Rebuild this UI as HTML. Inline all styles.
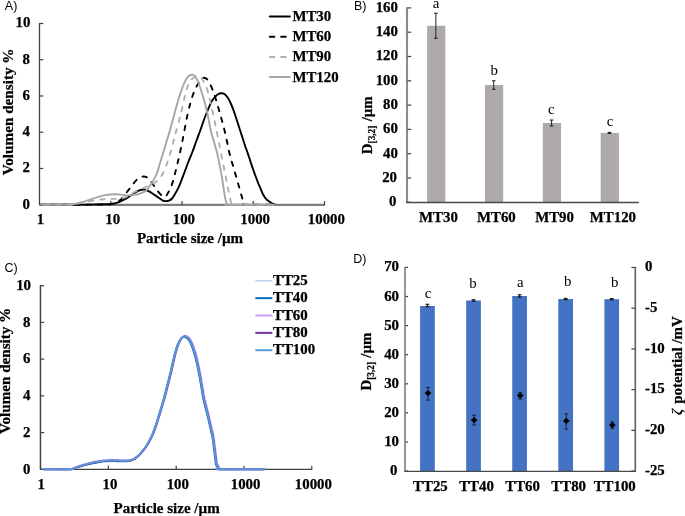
<!DOCTYPE html>
<html><head><meta charset="utf-8"><style>html,body{margin:0;padding:0;background:#fff;}svg{display:block;filter:blur(0.3px);}</style></head>
<body>
<svg width="685" height="516" viewBox="0 0 685 516">
<rect width="685" height="516" fill="#fff"/>
<text x="4.80" y="10.40" font-family="'Liberation Sans', sans-serif" font-weight="normal" font-size="12.50" text-anchor="start" fill="#000" >A)</text>
<line x1="39.50" y1="22.90" x2="39.50" y2="205.30" stroke="#404040" stroke-width="1.30" />
<line x1="39.50" y1="204.90" x2="324.60" y2="204.90" stroke="#808080" stroke-width="2.10" />
<line x1="39.50" y1="204.70" x2="43.30" y2="204.70" stroke="#404040" stroke-width="1.20" />
<text x="29.80" y="208.50" font-family="'Liberation Serif', serif" font-weight="bold" font-size="14.85" text-anchor="end" fill="#000"  stroke="#000" stroke-width="0.25">0</text>
<line x1="39.50" y1="168.46" x2="43.30" y2="168.46" stroke="#404040" stroke-width="1.20" />
<text x="29.80" y="172.26" font-family="'Liberation Serif', serif" font-weight="bold" font-size="14.85" text-anchor="end" fill="#000"  stroke="#000" stroke-width="0.25">2</text>
<line x1="39.50" y1="132.22" x2="43.30" y2="132.22" stroke="#404040" stroke-width="1.20" />
<text x="29.80" y="136.02" font-family="'Liberation Serif', serif" font-weight="bold" font-size="14.85" text-anchor="end" fill="#000"  stroke="#000" stroke-width="0.25">4</text>
<line x1="39.50" y1="95.98" x2="43.30" y2="95.98" stroke="#404040" stroke-width="1.20" />
<text x="29.80" y="99.78" font-family="'Liberation Serif', serif" font-weight="bold" font-size="14.85" text-anchor="end" fill="#000"  stroke="#000" stroke-width="0.25">6</text>
<line x1="39.50" y1="59.74" x2="43.30" y2="59.74" stroke="#404040" stroke-width="1.20" />
<text x="29.80" y="63.54" font-family="'Liberation Serif', serif" font-weight="bold" font-size="14.85" text-anchor="end" fill="#000"  stroke="#000" stroke-width="0.25">8</text>
<line x1="39.50" y1="23.50" x2="43.30" y2="23.50" stroke="#404040" stroke-width="1.20" />
<text x="30.30" y="27.30" font-family="'Liberation Serif', serif" font-weight="bold" font-size="14.85" text-anchor="end" fill="#000"  stroke="#000" stroke-width="0.25">10</text>
<line x1="110.75" y1="205.20" x2="110.75" y2="201.10" stroke="#3a3a3a" stroke-width="1.20" />
<line x1="182.00" y1="205.20" x2="182.00" y2="201.10" stroke="#3a3a3a" stroke-width="1.20" />
<line x1="253.25" y1="205.20" x2="253.25" y2="201.10" stroke="#3a3a3a" stroke-width="1.20" />
<line x1="324.50" y1="205.20" x2="324.50" y2="201.10" stroke="#3a3a3a" stroke-width="1.20" />
<text x="40.40" y="224.00" font-family="'Liberation Serif', serif" font-weight="bold" font-size="14.85" text-anchor="middle" fill="#000"  stroke="#000" stroke-width="0.25">1</text>
<text x="112.65" y="224.00" font-family="'Liberation Serif', serif" font-weight="bold" font-size="14.85" text-anchor="middle" fill="#000"  stroke="#000" stroke-width="0.25">10</text>
<text x="183.90" y="224.00" font-family="'Liberation Serif', serif" font-weight="bold" font-size="14.85" text-anchor="middle" fill="#000"  stroke="#000" stroke-width="0.25">100</text>
<text x="255.15" y="224.00" font-family="'Liberation Serif', serif" font-weight="bold" font-size="14.85" text-anchor="middle" fill="#000"  stroke="#000" stroke-width="0.25">1000</text>
<text x="326.40" y="224.00" font-family="'Liberation Serif', serif" font-weight="bold" font-size="14.85" text-anchor="middle" fill="#000"  stroke="#000" stroke-width="0.25">10000</text>
<text x="190.00" y="243.30" font-family="'Liberation Serif', serif" font-weight="bold" font-size="15.00" text-anchor="middle" fill="#000"  stroke="#000" stroke-width="0.25">Particle size /µm</text>
<text transform="translate(13.4,111.9) rotate(-90)" font-family="'Liberation Serif', serif" font-weight="bold" stroke="#000" stroke-width="0.25" font-size="15.20" text-anchor="middle">Volumen density %</text>
<path d="M41.00,204.70 C46.17,204.70 61.33,204.77 72.00,204.70 C82.67,204.63 98.47,204.40 105.00,204.30 C111.53,204.20 109.27,204.33 111.20,204.10 C113.13,203.87 114.80,203.48 116.60,202.90 C118.40,202.32 120.05,201.57 122.00,200.60 C123.95,199.63 126.22,198.37 128.30,197.10 C130.38,195.83 132.80,194.07 134.50,193.00 C136.20,191.93 137.13,191.28 138.50,190.70 C139.87,190.12 141.53,189.65 142.70,189.50 C143.87,189.35 144.62,189.57 145.50,189.80 C146.38,190.03 146.90,190.32 148.00,190.90 C149.10,191.48 150.37,192.20 152.10,193.30 C153.83,194.40 156.67,196.33 158.40,197.50 C160.13,198.67 161.32,199.70 162.50,200.30 C163.68,200.90 164.42,201.05 165.50,201.10 C166.58,201.15 167.92,201.03 169.00,200.60 C170.08,200.17 171.00,199.60 172.00,198.50 C173.00,197.40 173.98,195.68 175.00,194.00 C176.02,192.32 177.10,190.48 178.10,188.40 C179.10,186.32 179.92,184.23 181.00,181.50 C182.08,178.77 183.35,175.33 184.60,172.00 C185.85,168.67 187.20,164.83 188.50,161.50 C189.80,158.17 191.15,155.25 192.40,152.00 C193.65,148.75 194.72,145.50 196.00,142.00 C197.28,138.50 198.78,134.67 200.10,131.00 C201.42,127.33 202.58,123.58 203.90,120.00 C205.22,116.42 206.73,112.53 208.00,109.50 C209.27,106.47 210.37,103.83 211.50,101.80 C212.63,99.77 213.72,98.55 214.80,97.30 C215.88,96.05 216.92,94.98 218.00,94.30 C219.08,93.62 220.22,93.23 221.30,93.20 C222.38,93.17 223.33,93.22 224.50,94.10 C225.67,94.98 227.22,96.85 228.30,98.50 C229.38,100.15 230.08,101.92 231.00,104.00 C231.92,106.08 232.92,108.58 233.80,111.00 C234.68,113.42 235.40,115.75 236.30,118.50 C237.20,121.25 238.18,124.35 239.20,127.50 C240.22,130.65 241.43,134.40 242.40,137.40 C243.37,140.40 244.12,142.88 245.00,145.50 C245.88,148.12 246.82,150.52 247.70,153.10 C248.58,155.68 249.43,158.38 250.30,161.00 C251.17,163.62 252.03,166.30 252.90,168.80 C253.77,171.30 254.63,173.67 255.50,176.00 C256.37,178.33 257.22,180.60 258.10,182.80 C258.98,185.00 259.92,187.17 260.80,189.20 C261.68,191.23 262.53,193.40 263.40,195.00 C264.27,196.60 265.13,197.78 266.00,198.80 C266.87,199.82 267.68,200.37 268.60,201.10 C269.52,201.83 270.48,202.63 271.50,203.20 C272.52,203.77 274.17,204.28 274.70,204.50" fill="none" stroke="#000" stroke-width="1.9" stroke-linejoin="round" stroke-linecap="round"/>
<path d="M41.00,204.70 C46.67,204.70 64.33,204.73 75.00,204.70 C85.67,204.67 98.83,204.65 105.00,204.50 C111.17,204.35 110.08,204.18 112.00,203.80 C113.92,203.42 114.95,202.98 116.50,202.20 C118.05,201.42 119.88,200.38 121.30,199.10 C122.72,197.82 123.72,196.12 125.00,194.50 C126.28,192.88 127.67,191.15 129.00,189.40 C130.33,187.65 131.63,185.68 133.00,184.00 C134.37,182.32 135.87,180.47 137.20,179.30 C138.53,178.13 139.70,177.45 141.00,177.00 C142.30,176.55 143.75,176.33 145.00,176.60 C146.25,176.87 147.43,177.67 148.50,178.60 C149.57,179.53 150.40,180.87 151.40,182.20 C152.40,183.53 153.53,185.23 154.50,186.60 C155.47,187.97 156.20,189.12 157.20,190.40 C158.20,191.68 159.53,193.30 160.50,194.30 C161.47,195.30 162.28,195.98 163.00,196.40 C163.72,196.82 164.25,196.90 164.80,196.80 C165.35,196.70 165.80,196.40 166.30,195.80 C166.80,195.20 167.27,194.13 167.80,193.20 C168.33,192.27 168.93,191.32 169.50,190.20 C170.07,189.08 170.53,188.28 171.20,186.50 C171.87,184.72 172.78,182.00 173.50,179.50 C174.22,177.00 174.87,174.08 175.50,171.50 C176.13,168.92 176.67,166.58 177.30,164.00 C177.93,161.42 178.60,159.08 179.30,156.00 C180.00,152.92 180.78,149.00 181.50,145.50 C182.22,142.00 182.80,139.17 183.60,135.00 C184.40,130.83 185.48,124.58 186.30,120.50 C187.12,116.42 187.82,113.42 188.50,110.50 C189.18,107.58 189.70,105.50 190.40,103.00 C191.10,100.50 191.92,97.75 192.70,95.50 C193.48,93.25 194.25,91.37 195.10,89.50 C195.95,87.63 196.90,85.85 197.80,84.30 C198.70,82.75 199.57,81.27 200.50,80.20 C201.43,79.13 202.43,78.17 203.40,77.90 C204.37,77.63 205.42,78.00 206.30,78.60 C207.18,79.20 207.97,80.38 208.70,81.50 C209.43,82.62 209.85,83.38 210.70,85.30 C211.55,87.22 212.78,90.13 213.80,93.00 C214.82,95.87 215.93,99.67 216.80,102.50 C217.67,105.33 218.32,107.65 219.00,110.00 C219.68,112.35 220.23,114.18 220.90,116.60 C221.57,119.02 222.30,121.80 223.00,124.50 C223.70,127.20 224.42,129.88 225.10,132.80 C225.78,135.72 226.45,138.90 227.10,142.00 C227.75,145.10 228.32,148.48 229.00,151.40 C229.68,154.32 230.47,156.88 231.20,159.50 C231.93,162.12 232.65,164.52 233.40,167.10 C234.15,169.68 234.95,172.38 235.70,175.00 C236.45,177.62 237.17,180.22 237.90,182.80 C238.63,185.38 239.38,187.97 240.10,190.50 C240.82,193.03 241.58,195.87 242.20,198.00 C242.82,200.13 243.33,202.20 243.80,203.30 C244.27,204.40 239.85,204.37 245.00,204.60 C250.15,204.83 269.75,204.68 274.70,204.70" fill="none" stroke="#000" stroke-width="1.9" stroke-dasharray="4.4 6.9" stroke-linecap="round" stroke-linejoin="round"/>
<path d="M41.00,204.70 C45.83,204.70 64.35,204.78 70.00,204.70 C75.65,204.62 72.90,204.52 74.90,204.20 C76.90,203.88 79.48,203.30 82.00,202.80 C84.52,202.30 87.10,201.73 90.00,201.20 C92.90,200.67 96.73,199.95 99.40,199.60 C102.07,199.25 104.03,199.22 106.00,199.10 C107.97,198.98 109.43,198.95 111.20,198.90 C112.97,198.85 114.53,198.98 116.60,198.80 C118.67,198.62 121.53,198.35 123.60,197.80 C125.67,197.25 127.18,196.47 129.00,195.50 C130.82,194.53 132.30,193.15 134.50,192.00 C136.70,190.85 140.12,189.52 142.20,188.60 C144.28,187.68 145.47,187.18 147.00,186.50 C148.53,185.82 150.07,185.17 151.40,184.50 C152.73,183.83 154.03,183.08 155.00,182.50 C155.97,181.92 156.37,181.75 157.20,181.00 C158.03,180.25 159.03,179.28 160.00,178.00 C160.97,176.72 162.08,175.05 163.00,173.30 C163.92,171.55 164.72,169.47 165.50,167.50 C166.28,165.53 166.75,164.42 167.70,161.50 C168.65,158.58 170.15,153.67 171.20,150.00 C172.25,146.33 173.18,142.58 174.00,139.50 C174.82,136.42 175.18,134.92 176.10,131.50 C177.02,128.08 178.58,122.42 179.50,119.00 C180.42,115.58 180.92,113.92 181.60,111.00 C182.28,108.08 182.93,104.42 183.60,101.50 C184.27,98.58 184.93,96.00 185.60,93.50 C186.27,91.00 186.87,88.50 187.60,86.50 C188.33,84.50 189.10,82.92 190.00,81.50 C190.90,80.08 191.93,78.88 193.00,78.00 C194.07,77.12 195.37,76.45 196.40,76.20 C197.43,75.95 198.35,76.15 199.20,76.50 C200.05,76.85 200.78,77.52 201.50,78.30 C202.22,79.08 202.75,80.03 203.50,81.20 C204.25,82.37 205.18,83.17 206.00,85.30 C206.82,87.43 207.62,91.05 208.40,94.00 C209.18,96.95 209.97,99.92 210.70,103.00 C211.43,106.08 212.12,109.33 212.80,112.50 C213.48,115.67 214.20,119.08 214.80,122.00 C215.40,124.92 215.75,126.75 216.40,130.00 C217.05,133.25 217.93,137.63 218.70,141.50 C219.47,145.37 220.22,149.28 221.00,153.20 C221.78,157.12 222.62,161.12 223.40,165.00 C224.18,168.88 225.00,172.92 225.70,176.50 C226.40,180.08 226.95,183.22 227.60,186.50 C228.25,189.78 229.02,193.53 229.60,196.20 C230.18,198.87 230.65,201.12 231.10,202.50 C231.55,203.88 225.03,204.13 232.30,204.50 C239.57,204.87 267.63,204.67 274.70,204.70" fill="none" stroke="#b0b0b0" stroke-width="1.9" stroke-dasharray="4.4 6.9" stroke-dashoffset="-3.2" stroke-linecap="round" stroke-linejoin="round"/>
<path d="M41.00,204.70 C45.50,204.70 62.62,204.77 68.00,204.70 C73.38,204.63 71.20,204.67 73.30,204.30 C75.40,203.93 78.17,203.17 80.60,202.50 C83.03,201.83 85.47,201.08 87.90,200.30 C90.33,199.52 92.77,198.58 95.20,197.80 C97.63,197.02 100.07,196.15 102.50,195.60 C104.93,195.05 107.52,194.72 109.80,194.50 C112.08,194.28 114.42,194.28 116.20,194.30 C117.98,194.32 119.13,194.47 120.50,194.60 C121.87,194.73 123.15,194.97 124.40,195.10 C125.65,195.23 126.67,195.40 128.00,195.40 C129.33,195.40 130.93,195.25 132.40,195.10 C133.87,194.95 135.35,194.82 136.80,194.50 C138.25,194.18 139.65,193.78 141.10,193.20 C142.55,192.62 144.35,191.77 145.50,191.00 C146.65,190.23 147.12,189.67 148.00,188.60 C148.88,187.53 149.75,186.22 150.80,184.60 C151.85,182.98 153.23,180.92 154.30,178.90 C155.37,176.88 156.33,174.80 157.20,172.50 C158.07,170.20 158.70,167.77 159.50,165.10 C160.30,162.43 161.22,159.10 162.00,156.50 C162.78,153.90 163.37,152.25 164.20,149.50 C165.03,146.75 166.03,143.23 167.00,140.00 C167.97,136.77 168.92,133.85 170.00,130.10 C171.08,126.35 172.33,121.77 173.50,117.50 C174.67,113.23 175.87,108.50 177.00,104.50 C178.13,100.50 179.20,96.83 180.30,93.50 C181.40,90.17 182.57,86.95 183.60,84.50 C184.63,82.05 185.60,80.23 186.50,78.80 C187.40,77.37 188.02,76.57 189.00,75.90 C189.98,75.23 191.40,74.75 192.40,74.80 C193.40,74.85 194.22,75.38 195.00,76.20 C195.78,77.02 196.35,78.15 197.10,79.70 C197.85,81.25 198.72,83.37 199.50,85.50 C200.28,87.63 201.07,90.17 201.80,92.50 C202.53,94.83 203.20,97.00 203.90,99.50 C204.60,102.00 205.32,104.67 206.00,107.50 C206.68,110.33 207.33,113.33 208.00,116.50 C208.67,119.67 209.42,123.67 210.00,126.50 C210.58,129.33 210.75,130.67 211.50,133.50 C212.25,136.33 213.55,140.22 214.50,143.50 C215.45,146.78 216.35,149.62 217.20,153.20 C218.05,156.78 218.83,161.12 219.60,165.00 C220.37,168.88 221.15,172.75 221.80,176.50 C222.45,180.25 222.98,184.15 223.50,187.50 C224.02,190.85 224.45,194.15 224.90,196.60 C225.35,199.05 225.77,200.90 226.20,202.20 C226.63,203.50 227.03,203.98 227.50,204.40 C227.97,204.82 221.13,204.65 229.00,204.70 C236.87,204.75 267.08,204.70 274.70,204.70" fill="none" stroke="#a6a6a6" stroke-width="1.9" stroke-linejoin="round" stroke-linecap="round"/>
<line x1="269.8" y1="16.50" x2="289.8" y2="16.50" stroke="#000" stroke-width="2" stroke-linecap="round"/>
<text x="292.40" y="20.90" font-family="'Liberation Serif', serif" font-weight="bold" font-size="14.85" text-anchor="start" fill="#000"  stroke="#000" stroke-width="0.25">MT30</text>
<line x1="269.8" y1="36.70" x2="289.8" y2="36.70" stroke="#000" stroke-width="2" stroke-dasharray="4.5 6.9" stroke-linecap="round"/>
<text x="292.40" y="41.10" font-family="'Liberation Serif', serif" font-weight="bold" font-size="14.85" text-anchor="start" fill="#000"  stroke="#000" stroke-width="0.25">MT60</text>
<line x1="269.8" y1="56.90" x2="289.8" y2="56.90" stroke="#b0b0b0" stroke-width="2" stroke-dasharray="4.5 6.9" stroke-linecap="round"/>
<text x="292.40" y="61.30" font-family="'Liberation Serif', serif" font-weight="bold" font-size="14.85" text-anchor="start" fill="#000"  stroke="#000" stroke-width="0.25">MT90</text>
<line x1="269.8" y1="77.10" x2="289.8" y2="77.10" stroke="#a6a6a6" stroke-width="2" stroke-linecap="round"/>
<text x="292.40" y="81.50" font-family="'Liberation Serif', serif" font-weight="bold" font-size="14.85" text-anchor="start" fill="#000"  stroke="#000" stroke-width="0.25">MT120</text>
<text x="353.90" y="10.20" font-family="'Liberation Sans', sans-serif" font-weight="normal" font-size="12.50" text-anchor="start" fill="#000" >B)</text>
<line x1="407.00" y1="7.30" x2="407.00" y2="202.30" stroke="#8a8a8a" stroke-width="2.10" />
<line x1="407.50" y1="202.30" x2="411.20" y2="202.30" stroke="#404040" stroke-width="1.20" />
<text x="396.40" y="206.10" font-family="'Liberation Serif', serif" font-weight="bold" font-size="14.85" text-anchor="end" fill="#000"  stroke="#000" stroke-width="0.25">0</text>
<line x1="407.50" y1="178.00" x2="411.20" y2="178.00" stroke="#404040" stroke-width="1.20" />
<text x="397.00" y="181.80" font-family="'Liberation Serif', serif" font-weight="bold" font-size="14.85" text-anchor="end" fill="#000"  stroke="#000" stroke-width="0.25">20</text>
<line x1="407.50" y1="153.70" x2="411.20" y2="153.70" stroke="#404040" stroke-width="1.20" />
<text x="397.90" y="157.50" font-family="'Liberation Serif', serif" font-weight="bold" font-size="14.85" text-anchor="end" fill="#000"  stroke="#000" stroke-width="0.25">40</text>
<line x1="407.50" y1="129.40" x2="411.20" y2="129.40" stroke="#404040" stroke-width="1.20" />
<text x="397.90" y="133.20" font-family="'Liberation Serif', serif" font-weight="bold" font-size="14.85" text-anchor="end" fill="#000"  stroke="#000" stroke-width="0.25">60</text>
<line x1="407.50" y1="105.10" x2="411.20" y2="105.10" stroke="#404040" stroke-width="1.20" />
<text x="397.90" y="108.90" font-family="'Liberation Serif', serif" font-weight="bold" font-size="14.85" text-anchor="end" fill="#000"  stroke="#000" stroke-width="0.25">80</text>
<line x1="407.50" y1="80.80" x2="411.20" y2="80.80" stroke="#404040" stroke-width="1.20" />
<text x="397.90" y="84.60" font-family="'Liberation Serif', serif" font-weight="bold" font-size="14.85" text-anchor="end" fill="#000"  stroke="#000" stroke-width="0.25">100</text>
<line x1="407.50" y1="56.50" x2="411.20" y2="56.50" stroke="#404040" stroke-width="1.20" />
<text x="397.90" y="60.30" font-family="'Liberation Serif', serif" font-weight="bold" font-size="14.85" text-anchor="end" fill="#000"  stroke="#000" stroke-width="0.25">120</text>
<line x1="407.50" y1="32.20" x2="411.20" y2="32.20" stroke="#404040" stroke-width="1.20" />
<text x="397.90" y="36.00" font-family="'Liberation Serif', serif" font-weight="bold" font-size="14.85" text-anchor="end" fill="#000"  stroke="#000" stroke-width="0.25">140</text>
<line x1="407.50" y1="7.90" x2="411.20" y2="7.90" stroke="#404040" stroke-width="1.20" />
<text x="397.90" y="11.70" font-family="'Liberation Serif', serif" font-weight="bold" font-size="14.85" text-anchor="end" fill="#000"  stroke="#000" stroke-width="0.25">160</text>
<rect x="427.10" y="25.76" width="18.2" height="176.54" fill="#aeaaaa"/>
<line x1="435.85" y1="13.25" x2="435.85" y2="38.28" stroke="#222" stroke-width="1.00" />
<line x1="434.05" y1="13.25" x2="437.65" y2="13.25" stroke="#222" stroke-width="1.10" />
<line x1="434.05" y1="38.28" x2="437.65" y2="38.28" stroke="#222" stroke-width="1.10" />
<text x="436.10" y="7.80" font-family="'Liberation Serif', serif" font-weight="normal" font-size="14.85" text-anchor="middle" fill="#000" >a</text>
<rect x="484.97" y="85.05" width="18.2" height="117.25" fill="#aeaaaa"/>
<line x1="493.72" y1="80.80" x2="493.72" y2="89.31" stroke="#222" stroke-width="1.00" />
<line x1="491.92" y1="80.80" x2="495.52" y2="80.80" stroke="#222" stroke-width="1.10" />
<line x1="491.92" y1="89.31" x2="495.52" y2="89.31" stroke="#222" stroke-width="1.10" />
<text x="494.25" y="74.70" font-family="'Liberation Serif', serif" font-weight="normal" font-size="14.85" text-anchor="middle" fill="#000" >b</text>
<rect x="542.84" y="122.96" width="18.2" height="79.34" fill="#aeaaaa"/>
<line x1="551.59" y1="120.04" x2="551.59" y2="125.88" stroke="#222" stroke-width="1.00" />
<line x1="549.79" y1="120.04" x2="553.39" y2="120.04" stroke="#222" stroke-width="1.10" />
<line x1="549.79" y1="125.88" x2="553.39" y2="125.88" stroke="#222" stroke-width="1.10" />
<text x="551.25" y="113.60" font-family="'Liberation Serif', serif" font-weight="normal" font-size="14.85" text-anchor="middle" fill="#000" >c</text>
<rect x="600.71" y="132.92" width="18.2" height="69.38" fill="#aeaaaa"/>
<line x1="609.46" y1="132.44" x2="609.46" y2="133.41" stroke="#222" stroke-width="1.00" />
<line x1="607.66" y1="132.44" x2="611.26" y2="132.44" stroke="#222" stroke-width="1.10" />
<line x1="607.66" y1="133.41" x2="611.26" y2="133.41" stroke="#222" stroke-width="1.10" />
<text x="609.95" y="125.60" font-family="'Liberation Serif', serif" font-weight="normal" font-size="14.85" text-anchor="middle" fill="#000" >c</text>
<line x1="406.00" y1="202.45" x2="638.80" y2="202.45" stroke="#4a4a4a" stroke-width="1.35" />
<text x="438.50" y="221.60" font-family="'Liberation Serif', serif" font-weight="bold" font-size="14.85" text-anchor="middle" fill="#000"  stroke="#000" stroke-width="0.25">MT30</text>
<text x="496.37" y="221.60" font-family="'Liberation Serif', serif" font-weight="bold" font-size="14.85" text-anchor="middle" fill="#000"  stroke="#000" stroke-width="0.25">MT60</text>
<text x="554.54" y="221.60" font-family="'Liberation Serif', serif" font-weight="bold" font-size="14.85" text-anchor="middle" fill="#000"  stroke="#000" stroke-width="0.25">MT90</text>
<text x="612.91" y="221.60" font-family="'Liberation Serif', serif" font-weight="bold" font-size="14.85" text-anchor="middle" fill="#000"  stroke="#000" stroke-width="0.25">MT120</text>
<text transform="translate(371.7,154.2) rotate(-90)" font-family="'Liberation Serif', serif" font-weight="bold" stroke="#000" stroke-width="0.25" font-size="14.85">D<tspan font-size="9.3" font-weight="bold" dy="3">[3,2]</tspan><tspan dy="-3" dx="0.6"> /µm</tspan></text>
<text x="4.60" y="271.60" font-family="'Liberation Sans', sans-serif" font-weight="normal" font-size="12.50" text-anchor="start" fill="#000" >C)</text>
<line x1="40.45" y1="285.10" x2="40.45" y2="469.90" stroke="#434343" stroke-width="1.50" />
<line x1="40.45" y1="469.40" x2="311.70" y2="469.40" stroke="#404040" stroke-width="1.35" />
<line x1="40.45" y1="469.30" x2="44.20" y2="469.30" stroke="#404040" stroke-width="1.20" />
<text x="30.40" y="473.60" font-family="'Liberation Serif', serif" font-weight="bold" font-size="14.85" text-anchor="end" fill="#000"  stroke="#000" stroke-width="0.25">0</text>
<line x1="40.45" y1="432.58" x2="44.20" y2="432.58" stroke="#404040" stroke-width="1.20" />
<text x="30.40" y="436.88" font-family="'Liberation Serif', serif" font-weight="bold" font-size="14.85" text-anchor="end" fill="#000"  stroke="#000" stroke-width="0.25">2</text>
<line x1="40.45" y1="395.86" x2="44.20" y2="395.86" stroke="#404040" stroke-width="1.20" />
<text x="30.40" y="400.16" font-family="'Liberation Serif', serif" font-weight="bold" font-size="14.85" text-anchor="end" fill="#000"  stroke="#000" stroke-width="0.25">4</text>
<line x1="40.45" y1="359.14" x2="44.20" y2="359.14" stroke="#404040" stroke-width="1.20" />
<text x="30.40" y="363.44" font-family="'Liberation Serif', serif" font-weight="bold" font-size="14.85" text-anchor="end" fill="#000"  stroke="#000" stroke-width="0.25">6</text>
<line x1="40.45" y1="322.42" x2="44.20" y2="322.42" stroke="#404040" stroke-width="1.20" />
<text x="30.40" y="326.72" font-family="'Liberation Serif', serif" font-weight="bold" font-size="14.85" text-anchor="end" fill="#000"  stroke="#000" stroke-width="0.25">8</text>
<line x1="40.45" y1="285.70" x2="44.20" y2="285.70" stroke="#404040" stroke-width="1.20" />
<text x="31.00" y="290.00" font-family="'Liberation Serif', serif" font-weight="bold" font-size="14.85" text-anchor="end" fill="#000"  stroke="#000" stroke-width="0.25">10</text>
<line x1="108.40" y1="469.80" x2="108.40" y2="465.70" stroke="#404040" stroke-width="1.20" />
<line x1="176.20" y1="469.80" x2="176.20" y2="465.70" stroke="#404040" stroke-width="1.20" />
<line x1="244.00" y1="469.80" x2="244.00" y2="465.70" stroke="#404040" stroke-width="1.20" />
<line x1="311.80" y1="469.80" x2="311.80" y2="465.70" stroke="#404040" stroke-width="1.20" />
<text x="41.20" y="489.00" font-family="'Liberation Serif', serif" font-weight="bold" font-size="14.85" text-anchor="middle" fill="#000"  stroke="#000" stroke-width="0.25">1</text>
<text x="110.00" y="489.00" font-family="'Liberation Serif', serif" font-weight="bold" font-size="14.85" text-anchor="middle" fill="#000"  stroke="#000" stroke-width="0.25">10</text>
<text x="177.80" y="489.00" font-family="'Liberation Serif', serif" font-weight="bold" font-size="14.85" text-anchor="middle" fill="#000"  stroke="#000" stroke-width="0.25">100</text>
<text x="245.60" y="489.00" font-family="'Liberation Serif', serif" font-weight="bold" font-size="14.85" text-anchor="middle" fill="#000"  stroke="#000" stroke-width="0.25">1000</text>
<text x="313.40" y="489.00" font-family="'Liberation Serif', serif" font-weight="bold" font-size="14.85" text-anchor="middle" fill="#000"  stroke="#000" stroke-width="0.25">10000</text>
<text x="166.60" y="512.90" font-family="'Liberation Serif', serif" font-weight="bold" font-size="15.00" text-anchor="middle" fill="#000"  stroke="#000" stroke-width="0.25">Particle size /µm</text>
<text transform="translate(9.8,370.9) rotate(-90)" font-family="'Liberation Serif', serif" font-weight="bold" stroke="#000" stroke-width="0.25" font-size="15.10" text-anchor="middle">Volumen density %</text>
<path d="M43.60,469.30 C47.87,469.30 64.30,469.40 69.20,469.30 C74.10,469.20 71.48,469.08 73.00,468.69 C74.52,468.30 76.58,467.49 78.30,466.96 C80.02,466.43 81.60,465.98 83.30,465.50 C85.00,465.02 86.83,464.52 88.50,464.10 C90.17,463.68 91.60,463.35 93.30,463.00 C95.00,462.65 96.87,462.30 98.70,462.00 C100.53,461.70 102.35,461.40 104.30,461.20 C106.25,461.00 108.57,460.85 110.40,460.80 C112.23,460.75 113.60,460.85 115.30,460.90 C117.00,460.95 118.93,461.05 120.60,461.10 C122.27,461.15 123.85,461.23 125.30,461.20 C126.75,461.17 128.13,461.08 129.30,460.90 C130.47,460.72 131.32,460.47 132.30,460.10 C133.28,459.73 134.28,459.27 135.20,458.70 C136.12,458.13 136.95,457.45 137.80,456.70 C138.65,455.95 139.33,455.25 140.30,454.20 C141.27,453.15 142.50,451.78 143.60,450.40 C144.70,449.02 145.78,447.65 146.90,445.90 C148.02,444.15 149.23,441.95 150.30,439.90 C151.37,437.85 152.33,435.93 153.30,433.60 C154.27,431.27 155.18,428.60 156.10,425.90 C157.02,423.20 157.88,420.35 158.80,417.40 C159.72,414.45 160.67,411.30 161.60,408.20 C162.53,405.10 163.55,401.85 164.40,398.80 C165.25,395.75 165.93,392.88 166.70,389.90 C167.47,386.92 168.15,384.32 169.00,380.90 C169.85,377.48 170.80,373.62 171.80,369.40 C172.80,365.18 174.08,359.27 175.00,355.60 C175.92,351.93 176.53,349.72 177.30,347.40 C178.07,345.08 178.80,343.25 179.60,341.70 C180.40,340.15 181.23,338.95 182.10,338.10 C182.97,337.25 183.88,336.63 184.80,336.60 C185.72,336.57 186.72,337.22 187.60,337.90 C188.48,338.58 189.38,339.62 190.10,340.70 C190.82,341.78 191.32,343.03 191.90,344.40 C192.48,345.77 192.97,347.03 193.60,348.90 C194.23,350.77 195.03,353.15 195.70,355.60 C196.37,358.05 197.00,360.88 197.60,363.60 C198.20,366.32 198.77,369.18 199.30,371.90 C199.83,374.62 200.27,376.90 200.80,379.90 C201.33,382.90 201.97,386.75 202.50,389.90 C203.03,393.05 203.37,395.78 204.00,398.80 C204.63,401.82 205.53,404.93 206.30,408.00 C207.07,411.07 207.83,413.97 208.60,417.20 C209.37,420.43 210.13,424.02 210.90,427.40 C211.67,430.78 212.60,434.17 213.20,437.50 C213.80,440.83 214.10,444.25 214.50,447.40 C214.90,450.55 215.27,453.70 215.60,456.40 C215.93,459.10 216.17,461.95 216.50,463.60 C216.83,465.25 217.20,465.55 217.60,466.30 C218.00,467.05 218.52,467.59 218.90,468.09 C219.28,468.59 212.35,469.10 219.90,469.30 C227.45,469.50 256.82,469.30 264.20,469.30" fill="none" stroke="#bdd7ee" stroke-width="1.6" stroke-linejoin="round" stroke-linecap="round"/>
<path d="M43.60,469.30 C47.87,469.30 64.30,469.39 69.20,469.30 C74.10,469.21 71.60,469.10 73.00,468.74 C74.40,468.38 76.00,467.65 77.60,467.14 C79.20,466.63 80.90,466.17 82.60,465.70 C84.30,465.23 86.13,464.72 87.80,464.30 C89.47,463.88 90.90,463.55 92.60,463.20 C94.30,462.85 96.17,462.50 98.00,462.20 C99.83,461.90 101.65,461.60 103.60,461.40 C105.55,461.20 107.87,461.05 109.70,461.00 C111.53,460.95 112.90,461.05 114.60,461.10 C116.30,461.15 118.23,461.25 119.90,461.30 C121.57,461.35 123.15,461.43 124.60,461.40 C126.05,461.37 127.43,461.28 128.60,461.10 C129.77,460.92 130.62,460.67 131.60,460.30 C132.58,459.93 133.58,459.47 134.50,458.90 C135.42,458.33 136.25,457.65 137.10,456.90 C137.95,456.15 138.63,455.45 139.60,454.40 C140.57,453.35 141.80,451.98 142.90,450.60 C144.00,449.22 145.08,447.85 146.20,446.10 C147.32,444.35 148.53,442.15 149.60,440.10 C150.67,438.05 151.63,436.13 152.60,433.80 C153.57,431.47 154.48,428.80 155.40,426.10 C156.32,423.40 157.18,420.55 158.10,417.60 C159.02,414.65 159.97,411.50 160.90,408.40 C161.83,405.30 162.85,402.05 163.70,399.00 C164.55,395.95 165.23,393.08 166.00,390.10 C166.77,387.12 167.45,384.52 168.30,381.10 C169.15,377.68 170.10,373.82 171.10,369.60 C172.10,365.38 173.38,359.47 174.30,355.80 C175.22,352.13 175.83,349.92 176.60,347.60 C177.37,345.28 178.10,343.45 178.90,341.90 C179.70,340.35 180.53,339.15 181.40,338.30 C182.27,337.45 183.18,336.83 184.10,336.80 C185.02,336.77 186.02,337.42 186.90,338.10 C187.78,338.78 188.68,339.82 189.40,340.90 C190.12,341.98 190.62,343.23 191.20,344.60 C191.78,345.97 192.27,347.23 192.90,349.10 C193.53,350.97 194.33,353.35 195.00,355.80 C195.67,358.25 196.30,361.08 196.90,363.80 C197.50,366.52 198.07,369.38 198.60,372.10 C199.13,374.82 199.57,377.10 200.10,380.10 C200.63,383.10 201.27,386.95 201.80,390.10 C202.33,393.25 202.67,395.98 203.30,399.00 C203.93,402.02 204.83,405.13 205.60,408.20 C206.37,411.27 207.13,414.17 207.90,417.40 C208.67,420.63 209.43,424.22 210.20,427.60 C210.97,430.98 211.90,434.37 212.50,437.70 C213.10,441.03 213.40,444.45 213.80,447.60 C214.20,450.75 214.57,453.90 214.90,456.60 C215.23,459.30 215.47,462.15 215.80,463.80 C216.13,465.45 216.50,465.77 216.90,466.50 C217.30,467.23 217.70,467.71 218.20,468.18 C218.70,468.65 212.23,469.11 219.90,469.30 C227.57,469.49 256.82,469.30 264.20,469.30" fill="none" stroke="#0070c0" stroke-width="1.9" stroke-linejoin="round" stroke-linecap="round"/>
<path d="M43.60,469.30 C47.87,469.30 64.30,469.44 69.20,469.30 C74.10,469.16 71.40,469.00 73.00,468.46 C74.60,467.92 77.00,466.72 78.80,466.06 C80.60,465.40 82.10,464.99 83.80,464.50 C85.50,464.01 87.33,463.52 89.00,463.10 C90.67,462.68 92.10,462.35 93.80,462.00 C95.50,461.65 97.37,461.30 99.20,461.00 C101.03,460.70 102.85,460.40 104.80,460.20 C106.75,460.00 109.07,459.85 110.90,459.80 C112.73,459.75 114.10,459.85 115.80,459.90 C117.50,459.95 119.43,460.05 121.10,460.10 C122.77,460.15 124.35,460.23 125.80,460.20 C127.25,460.17 128.63,460.08 129.80,459.90 C130.97,459.72 131.82,459.47 132.80,459.10 C133.78,458.73 134.78,458.27 135.70,457.70 C136.62,457.13 137.45,456.45 138.30,455.70 C139.15,454.95 139.83,454.25 140.80,453.20 C141.77,452.15 143.00,450.78 144.10,449.40 C145.20,448.02 146.28,446.65 147.40,444.90 C148.52,443.15 149.73,440.95 150.80,438.90 C151.87,436.85 152.83,434.93 153.80,432.60 C154.77,430.27 155.68,427.60 156.60,424.90 C157.52,422.20 158.38,419.35 159.30,416.40 C160.22,413.45 161.17,410.30 162.10,407.20 C163.03,404.10 164.05,400.85 164.90,397.80 C165.75,394.75 166.43,391.88 167.20,388.90 C167.97,385.92 168.65,383.32 169.50,379.90 C170.35,376.48 171.30,372.62 172.30,368.40 C173.30,364.18 174.58,358.27 175.50,354.60 C176.42,350.93 177.03,348.72 177.80,346.40 C178.57,344.08 179.30,342.25 180.10,340.70 C180.90,339.15 181.73,337.95 182.60,337.10 C183.47,336.25 184.38,335.63 185.30,335.60 C186.22,335.57 187.22,336.22 188.10,336.90 C188.98,337.58 189.88,338.62 190.60,339.70 C191.32,340.78 191.82,342.03 192.40,343.40 C192.98,344.77 193.47,346.03 194.10,347.90 C194.73,349.77 195.53,352.15 196.20,354.60 C196.87,357.05 197.50,359.88 198.10,362.60 C198.70,365.32 199.27,368.18 199.80,370.90 C200.33,373.62 200.77,375.90 201.30,378.90 C201.83,381.90 202.47,385.75 203.00,388.90 C203.53,392.05 203.87,394.78 204.50,397.80 C205.13,400.82 206.03,403.93 206.80,407.00 C207.57,410.07 208.33,412.97 209.10,416.20 C209.87,419.43 210.63,423.02 211.40,426.40 C212.17,429.78 213.10,433.17 213.70,436.50 C214.30,439.83 214.60,443.25 215.00,446.40 C215.40,449.55 215.77,452.70 216.10,455.40 C216.43,458.10 216.67,460.95 217.00,462.60 C217.33,464.25 217.70,464.46 218.10,465.30 C218.50,466.14 219.10,466.95 219.40,467.62 C219.70,468.29 212.43,469.02 219.90,469.30 C227.37,469.58 256.82,469.30 264.20,469.30" fill="none" stroke="#cc99ff" stroke-width="1.9" stroke-linejoin="round" stroke-linecap="round"/>
<path d="M43.60,469.30 C47.87,469.30 64.30,469.41 69.20,469.30 C74.10,469.19 71.50,469.07 73.00,468.65 C74.50,468.23 76.50,467.34 78.20,466.78 C79.90,466.22 81.50,465.78 83.20,465.30 C84.90,464.82 86.73,464.32 88.40,463.90 C90.07,463.48 91.50,463.15 93.20,462.80 C94.90,462.45 96.77,462.10 98.60,461.80 C100.43,461.50 102.25,461.20 104.20,461.00 C106.15,460.80 108.47,460.65 110.30,460.60 C112.13,460.55 113.50,460.65 115.20,460.70 C116.90,460.75 118.83,460.85 120.50,460.90 C122.17,460.95 123.75,461.03 125.20,461.00 C126.65,460.97 128.03,460.88 129.20,460.70 C130.37,460.52 131.22,460.27 132.20,459.90 C133.18,459.53 134.18,459.07 135.10,458.50 C136.02,457.93 136.85,457.25 137.70,456.50 C138.55,455.75 139.23,455.05 140.20,454.00 C141.17,452.95 142.40,451.58 143.50,450.20 C144.60,448.82 145.68,447.45 146.80,445.70 C147.92,443.95 149.13,441.75 150.20,439.70 C151.27,437.65 152.23,435.73 153.20,433.40 C154.17,431.07 155.08,428.40 156.00,425.70 C156.92,423.00 157.78,420.15 158.70,417.20 C159.62,414.25 160.57,411.10 161.50,408.00 C162.43,404.90 163.45,401.65 164.30,398.60 C165.15,395.55 165.83,392.68 166.60,389.70 C167.37,386.72 168.05,384.12 168.90,380.70 C169.75,377.28 170.70,373.42 171.70,369.20 C172.70,364.98 173.98,359.07 174.90,355.40 C175.82,351.73 176.43,349.52 177.20,347.20 C177.97,344.88 178.70,343.05 179.50,341.50 C180.30,339.95 181.13,338.75 182.00,337.90 C182.87,337.05 183.78,336.43 184.70,336.40 C185.62,336.37 186.62,337.02 187.50,337.70 C188.38,338.38 189.28,339.42 190.00,340.50 C190.72,341.58 191.22,342.83 191.80,344.20 C192.38,345.57 192.87,346.83 193.50,348.70 C194.13,350.57 194.93,352.95 195.60,355.40 C196.27,357.85 196.90,360.68 197.50,363.40 C198.10,366.12 198.67,368.98 199.20,371.70 C199.73,374.42 200.17,376.70 200.70,379.70 C201.23,382.70 201.87,386.55 202.40,389.70 C202.93,392.85 203.27,395.58 203.90,398.60 C204.53,401.62 205.43,404.73 206.20,407.80 C206.97,410.87 207.73,413.77 208.50,417.00 C209.27,420.23 210.03,423.82 210.80,427.20 C211.57,430.58 212.50,433.97 213.10,437.30 C213.70,440.63 214.00,444.05 214.40,447.20 C214.80,450.35 215.17,453.50 215.50,456.20 C215.83,458.90 216.07,461.75 216.40,463.40 C216.73,465.05 217.10,465.33 217.50,466.10 C217.90,466.87 218.40,467.46 218.80,467.99 C219.20,468.53 212.33,469.08 219.90,469.30 C227.47,469.52 256.82,469.30 264.20,469.30" fill="none" stroke="#7030a0" stroke-width="1.9" stroke-linejoin="round" stroke-linecap="round"/>
<path d="M43.60,469.30 C47.87,469.30 64.30,469.42 69.20,469.30 C74.10,469.18 71.53,469.05 73.00,468.60 C74.47,468.15 76.33,467.18 78.00,466.60 C79.67,466.02 81.30,465.58 83.00,465.10 C84.70,464.62 86.53,464.12 88.20,463.70 C89.87,463.28 91.30,462.95 93.00,462.60 C94.70,462.25 96.57,461.90 98.40,461.60 C100.23,461.30 102.05,461.00 104.00,460.80 C105.95,460.60 108.27,460.45 110.10,460.40 C111.93,460.35 113.30,460.45 115.00,460.50 C116.70,460.55 118.63,460.65 120.30,460.70 C121.97,460.75 123.55,460.83 125.00,460.80 C126.45,460.77 127.83,460.68 129.00,460.50 C130.17,460.32 131.02,460.07 132.00,459.70 C132.98,459.33 133.98,458.87 134.90,458.30 C135.82,457.73 136.65,457.05 137.50,456.30 C138.35,455.55 139.03,454.85 140.00,453.80 C140.97,452.75 142.20,451.38 143.30,450.00 C144.40,448.62 145.48,447.25 146.60,445.50 C147.72,443.75 148.93,441.55 150.00,439.50 C151.07,437.45 152.03,435.53 153.00,433.20 C153.97,430.87 154.88,428.20 155.80,425.50 C156.72,422.80 157.58,419.95 158.50,417.00 C159.42,414.05 160.37,410.90 161.30,407.80 C162.23,404.70 163.25,401.45 164.10,398.40 C164.95,395.35 165.63,392.48 166.40,389.50 C167.17,386.52 167.85,383.92 168.70,380.50 C169.55,377.08 170.50,373.22 171.50,369.00 C172.50,364.78 173.78,358.87 174.70,355.20 C175.62,351.53 176.23,349.32 177.00,347.00 C177.77,344.68 178.50,342.85 179.30,341.30 C180.10,339.75 180.93,338.55 181.80,337.70 C182.67,336.85 183.58,336.23 184.50,336.20 C185.42,336.17 186.42,336.82 187.30,337.50 C188.18,338.18 189.08,339.22 189.80,340.30 C190.52,341.38 191.02,342.63 191.60,344.00 C192.18,345.37 192.67,346.63 193.30,348.50 C193.93,350.37 194.73,352.75 195.40,355.20 C196.07,357.65 196.70,360.48 197.30,363.20 C197.90,365.92 198.47,368.78 199.00,371.50 C199.53,374.22 199.97,376.50 200.50,379.50 C201.03,382.50 201.67,386.35 202.20,389.50 C202.73,392.65 203.07,395.38 203.70,398.40 C204.33,401.42 205.23,404.53 206.00,407.60 C206.77,410.67 207.53,413.57 208.30,416.80 C209.07,420.03 209.83,423.62 210.60,427.00 C211.37,430.38 212.30,433.77 212.90,437.10 C213.50,440.43 213.80,443.85 214.20,447.00 C214.60,450.15 214.97,453.30 215.30,456.00 C215.63,458.70 215.87,461.55 216.20,463.20 C216.53,464.85 216.90,465.12 217.30,465.90 C217.70,466.68 218.17,467.33 218.60,467.90 C219.03,468.47 212.30,469.07 219.90,469.30 C227.50,469.53 256.82,469.30 264.20,469.30" fill="none" stroke="#5b9bd5" stroke-width="1.9" stroke-linejoin="round" stroke-linecap="round"/>
<line x1="255.30" y1="280.80" x2="272.30" y2="280.80" stroke="#bdd7ee" stroke-width="1.60" />
<text x="273.00" y="284.80" font-family="'Liberation Serif', serif" font-weight="bold" font-size="14.90" text-anchor="start" fill="#000"  stroke="#000" stroke-width="0.25">TT25</text>
<line x1="255.30" y1="298.15" x2="272.30" y2="298.15" stroke="#0070c0" stroke-width="2.00" />
<text x="273.00" y="302.15" font-family="'Liberation Serif', serif" font-weight="bold" font-size="14.90" text-anchor="start" fill="#000"  stroke="#000" stroke-width="0.25">TT40</text>
<line x1="255.30" y1="315.50" x2="272.30" y2="315.50" stroke="#cc99ff" stroke-width="2.00" />
<text x="273.00" y="319.50" font-family="'Liberation Serif', serif" font-weight="bold" font-size="14.90" text-anchor="start" fill="#000"  stroke="#000" stroke-width="0.25">TT60</text>
<line x1="255.30" y1="332.85" x2="272.30" y2="332.85" stroke="#7030a0" stroke-width="2.00" />
<text x="273.00" y="336.85" font-family="'Liberation Serif', serif" font-weight="bold" font-size="14.90" text-anchor="start" fill="#000"  stroke="#000" stroke-width="0.25">TT80</text>
<line x1="255.30" y1="350.20" x2="272.30" y2="350.20" stroke="#5b9bd5" stroke-width="2.00" />
<text x="273.00" y="354.20" font-family="'Liberation Serif', serif" font-weight="bold" font-size="14.90" text-anchor="start" fill="#000"  stroke="#000" stroke-width="0.25">TT100</text>
<text x="353.30" y="263.20" font-family="'Liberation Sans', sans-serif" font-weight="normal" font-size="12.50" text-anchor="start" fill="#000" >D)</text>
<line x1="405.00" y1="266.80" x2="405.00" y2="471.10" stroke="#999999" stroke-width="2.10" />
<line x1="635.30" y1="266.80" x2="635.30" y2="471.10" stroke="#666666" stroke-width="1.70" />
<line x1="405.50" y1="471.10" x2="408.00" y2="471.10" stroke="#404040" stroke-width="1.20" />
<text x="397.40" y="475.10" font-family="'Liberation Serif', serif" font-weight="bold" font-size="14.85" text-anchor="end" fill="#000"  stroke="#000" stroke-width="0.25">0</text>
<line x1="405.50" y1="442.00" x2="408.00" y2="442.00" stroke="#404040" stroke-width="1.20" />
<text x="399.00" y="446.00" font-family="'Liberation Serif', serif" font-weight="bold" font-size="14.85" text-anchor="end" fill="#000"  stroke="#000" stroke-width="0.25">10</text>
<line x1="405.50" y1="412.90" x2="408.00" y2="412.90" stroke="#404040" stroke-width="1.20" />
<text x="399.00" y="416.90" font-family="'Liberation Serif', serif" font-weight="bold" font-size="14.85" text-anchor="end" fill="#000"  stroke="#000" stroke-width="0.25">20</text>
<line x1="405.50" y1="383.80" x2="408.00" y2="383.80" stroke="#404040" stroke-width="1.20" />
<text x="399.00" y="387.80" font-family="'Liberation Serif', serif" font-weight="bold" font-size="14.85" text-anchor="end" fill="#000"  stroke="#000" stroke-width="0.25">30</text>
<line x1="405.50" y1="354.70" x2="408.00" y2="354.70" stroke="#404040" stroke-width="1.20" />
<text x="399.00" y="358.70" font-family="'Liberation Serif', serif" font-weight="bold" font-size="14.85" text-anchor="end" fill="#000"  stroke="#000" stroke-width="0.25">40</text>
<line x1="405.50" y1="325.60" x2="408.00" y2="325.60" stroke="#404040" stroke-width="1.20" />
<text x="399.00" y="329.60" font-family="'Liberation Serif', serif" font-weight="bold" font-size="14.85" text-anchor="end" fill="#000"  stroke="#000" stroke-width="0.25">50</text>
<line x1="405.50" y1="296.50" x2="408.00" y2="296.50" stroke="#404040" stroke-width="1.20" />
<text x="399.00" y="300.50" font-family="'Liberation Serif', serif" font-weight="bold" font-size="14.85" text-anchor="end" fill="#000"  stroke="#000" stroke-width="0.25">60</text>
<line x1="405.50" y1="267.40" x2="408.00" y2="267.40" stroke="#404040" stroke-width="1.20" />
<text x="399.00" y="271.40" font-family="'Liberation Serif', serif" font-weight="bold" font-size="14.85" text-anchor="end" fill="#000"  stroke="#000" stroke-width="0.25">70</text>
<line x1="631.40" y1="267.50" x2="635.00" y2="267.50" stroke="#404040" stroke-width="1.20" />
<text x="645.00" y="271.20" font-family="'Liberation Serif', serif" font-weight="bold" font-size="14.85" text-anchor="start" fill="#000"  stroke="#000" stroke-width="0.25">0</text>
<line x1="631.40" y1="308.22" x2="635.00" y2="308.22" stroke="#404040" stroke-width="1.20" />
<text x="645.00" y="311.92" font-family="'Liberation Serif', serif" font-weight="bold" font-size="14.85" text-anchor="start" fill="#000"  stroke="#000" stroke-width="0.25">-5</text>
<line x1="631.40" y1="348.94" x2="635.00" y2="348.94" stroke="#404040" stroke-width="1.20" />
<text x="645.00" y="352.64" font-family="'Liberation Serif', serif" font-weight="bold" font-size="14.85" text-anchor="start" fill="#000"  stroke="#000" stroke-width="0.25">-10</text>
<line x1="631.40" y1="389.66" x2="635.00" y2="389.66" stroke="#404040" stroke-width="1.20" />
<text x="645.00" y="393.36" font-family="'Liberation Serif', serif" font-weight="bold" font-size="14.85" text-anchor="start" fill="#000"  stroke="#000" stroke-width="0.25">-15</text>
<line x1="631.40" y1="430.38" x2="635.00" y2="430.38" stroke="#404040" stroke-width="1.20" />
<text x="645.00" y="434.08" font-family="'Liberation Serif', serif" font-weight="bold" font-size="14.85" text-anchor="start" fill="#000"  stroke="#000" stroke-width="0.25">-20</text>
<line x1="631.40" y1="471.10" x2="635.00" y2="471.10" stroke="#404040" stroke-width="1.20" />
<text x="645.00" y="474.80" font-family="'Liberation Serif', serif" font-weight="bold" font-size="14.85" text-anchor="start" fill="#000"  stroke="#000" stroke-width="0.25">-25</text>
<rect x="420.10" y="306.00" width="14.7" height="165.10" fill="#4472c4"/>
<line x1="427.45" y1="304.30" x2="427.45" y2="306.60" stroke="#111" stroke-width="1.10" />
<line x1="425.55" y1="304.30" x2="429.35" y2="304.30" stroke="#111" stroke-width="1.10" />
<line x1="425.55" y1="306.60" x2="429.35" y2="306.60" stroke="#111" stroke-width="1.10" />
<text x="428.10" y="298.20" font-family="'Liberation Serif', serif" font-weight="normal" font-size="14.85" text-anchor="middle" fill="#000" >c</text>
<line x1="428.05" y1="387.50" x2="428.05" y2="400.10" stroke="#1f2a44" stroke-width="1.10" />
<line x1="426.10" y1="387.50" x2="430.00" y2="387.50" stroke="#1f2a44" stroke-width="1.10" />
<line x1="426.10" y1="400.10" x2="430.00" y2="400.10" stroke="#1f2a44" stroke-width="1.10" />
<path d="M428.05,390.00 L431.40,393.10 L428.05,396.20 L424.70,393.10 Z" fill="#000"/>
<rect x="466.17" y="300.50" width="14.7" height="170.60" fill="#4472c4"/>
<line x1="473.52" y1="299.80" x2="473.52" y2="301.20" stroke="#111" stroke-width="1.10" />
<line x1="471.62" y1="299.80" x2="475.42" y2="299.80" stroke="#111" stroke-width="1.10" />
<line x1="471.62" y1="301.20" x2="475.42" y2="301.20" stroke="#111" stroke-width="1.10" />
<text x="472.90" y="288.30" font-family="'Liberation Serif', serif" font-weight="normal" font-size="14.85" text-anchor="middle" fill="#000" >b</text>
<line x1="474.12" y1="415.30" x2="474.12" y2="424.90" stroke="#1f2a44" stroke-width="1.10" />
<line x1="472.17" y1="415.30" x2="476.07" y2="415.30" stroke="#1f2a44" stroke-width="1.10" />
<line x1="472.17" y1="424.90" x2="476.07" y2="424.90" stroke="#1f2a44" stroke-width="1.10" />
<path d="M474.12,417.10 L477.47,420.20 L474.12,423.30 L470.77,420.20 Z" fill="#000"/>
<rect x="512.24" y="296.00" width="14.7" height="175.10" fill="#4472c4"/>
<line x1="519.59" y1="294.80" x2="519.59" y2="297.20" stroke="#111" stroke-width="1.10" />
<line x1="517.69" y1="294.80" x2="521.49" y2="294.80" stroke="#111" stroke-width="1.10" />
<line x1="517.69" y1="297.20" x2="521.49" y2="297.20" stroke="#111" stroke-width="1.10" />
<text x="520.25" y="287.30" font-family="'Liberation Serif', serif" font-weight="normal" font-size="14.85" text-anchor="middle" fill="#000" >a</text>
<line x1="520.19" y1="392.40" x2="520.19" y2="399.00" stroke="#1f2a44" stroke-width="1.10" />
<line x1="518.24" y1="392.40" x2="522.14" y2="392.40" stroke="#1f2a44" stroke-width="1.10" />
<line x1="518.24" y1="399.00" x2="522.14" y2="399.00" stroke="#1f2a44" stroke-width="1.10" />
<path d="M520.19,392.50 L523.54,395.60 L520.19,398.70 L516.84,395.60 Z" fill="#000"/>
<rect x="558.31" y="299.00" width="14.7" height="172.10" fill="#4472c4"/>
<line x1="565.66" y1="298.40" x2="565.66" y2="299.60" stroke="#111" stroke-width="1.10" />
<line x1="563.76" y1="298.40" x2="567.56" y2="298.40" stroke="#111" stroke-width="1.10" />
<line x1="563.76" y1="299.60" x2="567.56" y2="299.60" stroke="#111" stroke-width="1.10" />
<text x="567.80" y="286.30" font-family="'Liberation Serif', serif" font-weight="normal" font-size="14.85" text-anchor="middle" fill="#000" >b</text>
<line x1="566.26" y1="413.80" x2="566.26" y2="429.20" stroke="#1f2a44" stroke-width="1.10" />
<line x1="564.31" y1="413.80" x2="568.21" y2="413.80" stroke="#1f2a44" stroke-width="1.10" />
<line x1="564.31" y1="429.20" x2="568.21" y2="429.20" stroke="#1f2a44" stroke-width="1.10" />
<path d="M566.26,417.80 L569.61,420.90 L566.26,424.00 L562.91,420.90 Z" fill="#000"/>
<rect x="604.38" y="299.20" width="14.7" height="171.90" fill="#4472c4"/>
<line x1="611.73" y1="298.60" x2="611.73" y2="299.80" stroke="#111" stroke-width="1.10" />
<line x1="609.83" y1="298.60" x2="613.63" y2="298.60" stroke="#111" stroke-width="1.10" />
<line x1="609.83" y1="299.80" x2="613.63" y2="299.80" stroke="#111" stroke-width="1.10" />
<text x="614.80" y="287.30" font-family="'Liberation Serif', serif" font-weight="normal" font-size="14.85" text-anchor="middle" fill="#000" >b</text>
<line x1="612.33" y1="421.80" x2="612.33" y2="428.40" stroke="#1f2a44" stroke-width="1.10" />
<line x1="610.38" y1="421.80" x2="614.28" y2="421.80" stroke="#1f2a44" stroke-width="1.10" />
<line x1="610.38" y1="428.40" x2="614.28" y2="428.40" stroke="#1f2a44" stroke-width="1.10" />
<path d="M612.33,422.00 L615.68,425.10 L612.33,428.20 L608.98,425.10 Z" fill="#000"/>
<line x1="404.30" y1="471.40" x2="636.00" y2="471.40" stroke="#4a4a4a" stroke-width="1.40" />
<text x="430.45" y="491.20" font-family="'Liberation Serif', serif" font-weight="bold" font-size="14.85" text-anchor="middle" fill="#000"  stroke="#000" stroke-width="0.25">TT25</text>
<text x="476.52" y="491.20" font-family="'Liberation Serif', serif" font-weight="bold" font-size="14.85" text-anchor="middle" fill="#000"  stroke="#000" stroke-width="0.25">TT40</text>
<text x="522.59" y="491.20" font-family="'Liberation Serif', serif" font-weight="bold" font-size="14.85" text-anchor="middle" fill="#000"  stroke="#000" stroke-width="0.25">TT60</text>
<text x="568.66" y="491.20" font-family="'Liberation Serif', serif" font-weight="bold" font-size="14.85" text-anchor="middle" fill="#000"  stroke="#000" stroke-width="0.25">TT80</text>
<text x="614.73" y="491.20" font-family="'Liberation Serif', serif" font-weight="bold" font-size="14.85" text-anchor="middle" fill="#000"  stroke="#000" stroke-width="0.25">TT100</text>
<text transform="translate(370.8,390.5) rotate(-90)" font-family="'Liberation Serif', serif" font-weight="bold" stroke="#000" stroke-width="0.25" font-size="14.85">D<tspan font-size="9.3" font-weight="bold" dy="3">[3,2]</tspan><tspan dy="-3" dx="0.6"> /µm</tspan></text>
<text transform="translate(682.0,415.1) rotate(-90)" font-family="'Liberation Serif', serif" font-style="italic" font-weight="bold" font-size="14.67">ζ</text>
<text transform="translate(682.0,403.7) rotate(-90)" font-family="'Liberation Serif', serif" font-weight="bold" stroke="#000" stroke-width="0.25" font-size="14.95">potential /mV</text>
</svg>
</body></html>
